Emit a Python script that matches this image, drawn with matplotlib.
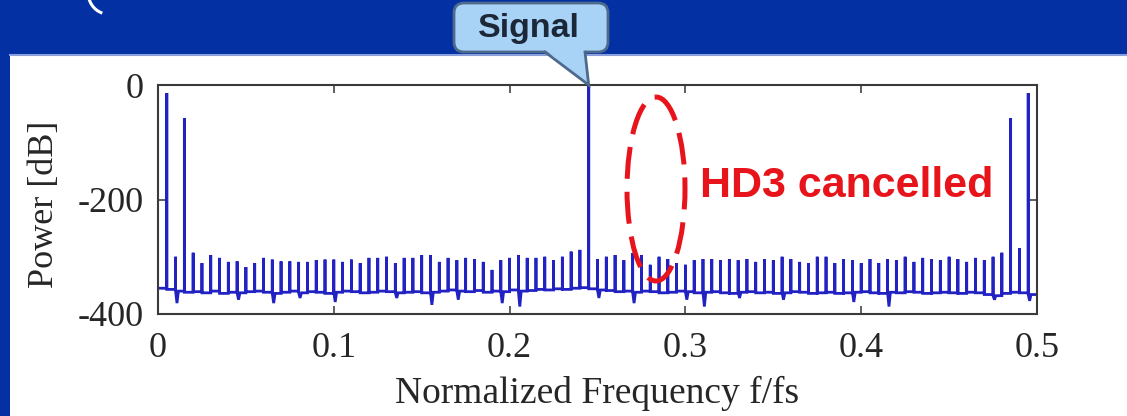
import numpy as np
import matplotlib
matplotlib.use("Agg")
import matplotlib.pyplot as plt
from matplotlib.patches import FancyBboxPatch, Polygon, Ellipse, Rectangle, Arc
from matplotlib.lines import Line2D

# ---------------------------------------------------------------- data
bin_step = 0.005                      # spacing of the spur grid (f/fs)
spur_bins = np.arange(1, 100)         # bins 1 .. 99
spur_db = [-14, -300, -58, -293, -311, -297, -302, -309, -308, -318,
           -311, -302, -305, -308, -308, -309, -309, -306, -305, -305,
           -309, -305, -311, -302, -302, -300, -311, -302, -302, -297,
           -297, -309, -302, -306, -302, -304, -309, -323, -306, -302,
           -297, -302, -302, -300, -306, -300, -291, -288, -2, -304,
           -300, -297, -306, -294, -297, -314, -300, -304, -311, -314,
           -306, -304, -304, -306, -304, -306, -304, -309, -304, -306,
           -300, -304, -309, -311, -300, -300, -311, -304, -306, -311,
           -304, -311, -304, -306, -300, -309, -302, -304, -306, -300,
           -304, -309, -302, -306, -300, -293, -58, -285, -14]

# noise floor between neighbouring bins (gap g spans bin g .. g+1)
floor_db = [-355, -357, -360, -362, -361, -363, -360, -364, -362, -363,
            -361, -360, -362, -364, -362, -360, -363, -361, -362, -364,
            -362, -360, -361, -363, -362, -360, -361, -363, -362, -361,
            -363, -362, -360, -358, -360, -361, -359, -362, -360, -361,
            -358, -360, -359, -357, -358, -356, -357, -355, -354, -356,
            -358, -359, -361, -360, -362, -360, -361, -363, -362, -360,
            -361, -363, -362, -361, -363, -364, -362, -361, -363, -362,
            -364, -363, -361, -362, -364, -363, -362, -364, -363, -362,
            -361, -363, -364, -362, -363, -361, -362, -364, -363, -362,
            -363, -364, -362, -363, -366, -368, -364, -362, -363, -366]

# short downward excursions of the floor
dip_gaps = [2, 9, 13, 16, 20, 27, 31, 34, 39, 41, 50, 54, 60, 62, 66, 71, 79, 83, 95, 99]
dip_db = [-381, -375, -381, -372, -379, -372, -384, -375, -381, -387,
          -372, -381, -375, -387, -372, -375, -379, -387, -375, -377]

signal_bin = 49
x_ticks = [0, 0.1, 0.2, 0.3, 0.4, 0.5]
x_tick_labels = ["0", "0.1", "0.2", "0.3", "0.4", "0.5"]
y_ticks = [-400, -200, 0]
y_tick_labels = ["-400", "-200", "0"]

# ---------------------------------------------------------------- trace
dips = dict(zip(dip_gaps, dip_db))
freq, power = [], []
for g in range(100):
    f0 = g * bin_step
    fl = floor_db[g]
    freq.append(f0); power.append(fl)
    if g in dips:
        freq += [f0 + 0.0008, f0 + 0.0016]
        power += [dips[g], fl]
    freq.append(f0 + bin_step); power.append(fl)
    if g < 99:
        fk = spur_bins[g] * bin_step
        freq += [fk, fk]
        power += [spur_db[g], floor_db[g + 1]]

# ---------------------------------------------------------------- figure
W, H = 1127, 416
blue_bg = "#0331a3"
fig = plt.figure(figsize=(W / 100, H / 100), dpi=100, facecolor=blue_bg)

panel = Rectangle((10 / W, 0), 1 - 10 / W, (H - 55) / H, transform=fig.transFigure,
                  facecolor="white", edgecolor="none", zorder=-2)
fig.add_artist(panel)
fig.add_artist(Line2D([10 / W, 1], [(H - 55) / H] * 2, transform=fig.transFigure,
                      color="#8a9fdc", lw=1.5, zorder=-1))

ax = fig.add_axes([158 / W, 1 - 314 / H, (1037 - 158) / W, (314 - 85) / H])
ax.set_facecolor("white")
ax.plot(freq, power, color="#2222c2", lw=2.0, solid_joinstyle="miter")
ax.set_xlim(0, 0.5)
ax.set_ylim(-400, 0)

serif = "Liberation Serif"
ax.set_xticks(x_ticks)
ax.set_xticklabels(x_tick_labels, fontfamily=serif, fontsize=26, color="#262626")
ax.set_yticks(y_ticks)
ax.set_yticklabels(y_tick_labels, fontfamily=serif, fontsize=26, color="#262626")
ax.tick_params(axis="x", direction="in", length=6, width=1.2, color="#444444",
               top=True, pad=13)
ax.tick_params(axis="y", direction="in", length=6, width=1.2, color="#444444",
               right=True, pad=10)
for s in ax.spines.values():
    s.set_color("#3a3a3a")
    s.set_linewidth(1.5)

ax.set_xlabel("Normalized Frequency f/fs", fontfamily=serif, fontsize=27, color="#262626")
ax.xaxis.set_label_coords(0.5, -0.27)
ax.set_ylabel("Power [dB]", fontfamily=serif, fontsize=26, color="#262626")
ax.yaxis.set_label_coords(-0.11, 0.48)

# ---------------------------------------------------------------- annotations
ov = fig.add_axes([0, 0, 1, 1], zorder=5)
ov.set_xlim(0, W)
ov.set_ylim(H, 0)
ov.axis("off")
ov.patch.set_alpha(0)

# lower end of a bracket stroke from the heading above
ov.add_patch(Arc((108, -8), 40, 44, theta1=105, theta2=180, color="white", lw=2.2))

# callout pointing at the signal tone
tip = ov.transData.inverted().transform(
    ax.transData.transform((spur_bins[signal_bin - 1] * bin_step, 0)))
box_fc, box_ec = "#a8d3f6", "#4d6a8c"
ov.add_patch(FancyBboxPatch((454, 3), 154, 49, boxstyle="round,pad=0,rounding_size=10",
                            facecolor=box_fc, edgecolor=box_ec, lw=2))
ov.add_patch(Polygon([(545, 50), (585, 50), tuple(tip)], closed=True,
                     facecolor=box_fc, edgecolor="none"))
ov.plot([545, tip[0], 585], [52, tip[1], 52], color=box_ec, lw=2, solid_joinstyle="miter")
ov.text(529, 28, "Signal", fontfamily="Liberation Sans", fontweight="bold",
        fontsize=24.5, color="#1c2738", ha="center", va="center")

# dashed ellipse where HD3 would sit
ov.add_patch(Ellipse((656, 189), 58, 184, fill=False, edgecolor="#e8141c", lw=3.6,
                     linestyle=(0, (6.4, 2.6))))
ov.text(700, 186, "HD3 cancelled", fontfamily="Liberation Sans", fontweight="bold",
        fontsize=31, color="#e8141c", ha="left", va="center")

fig.savefig("out.png", dpi=100, facecolor=blue_bg)
